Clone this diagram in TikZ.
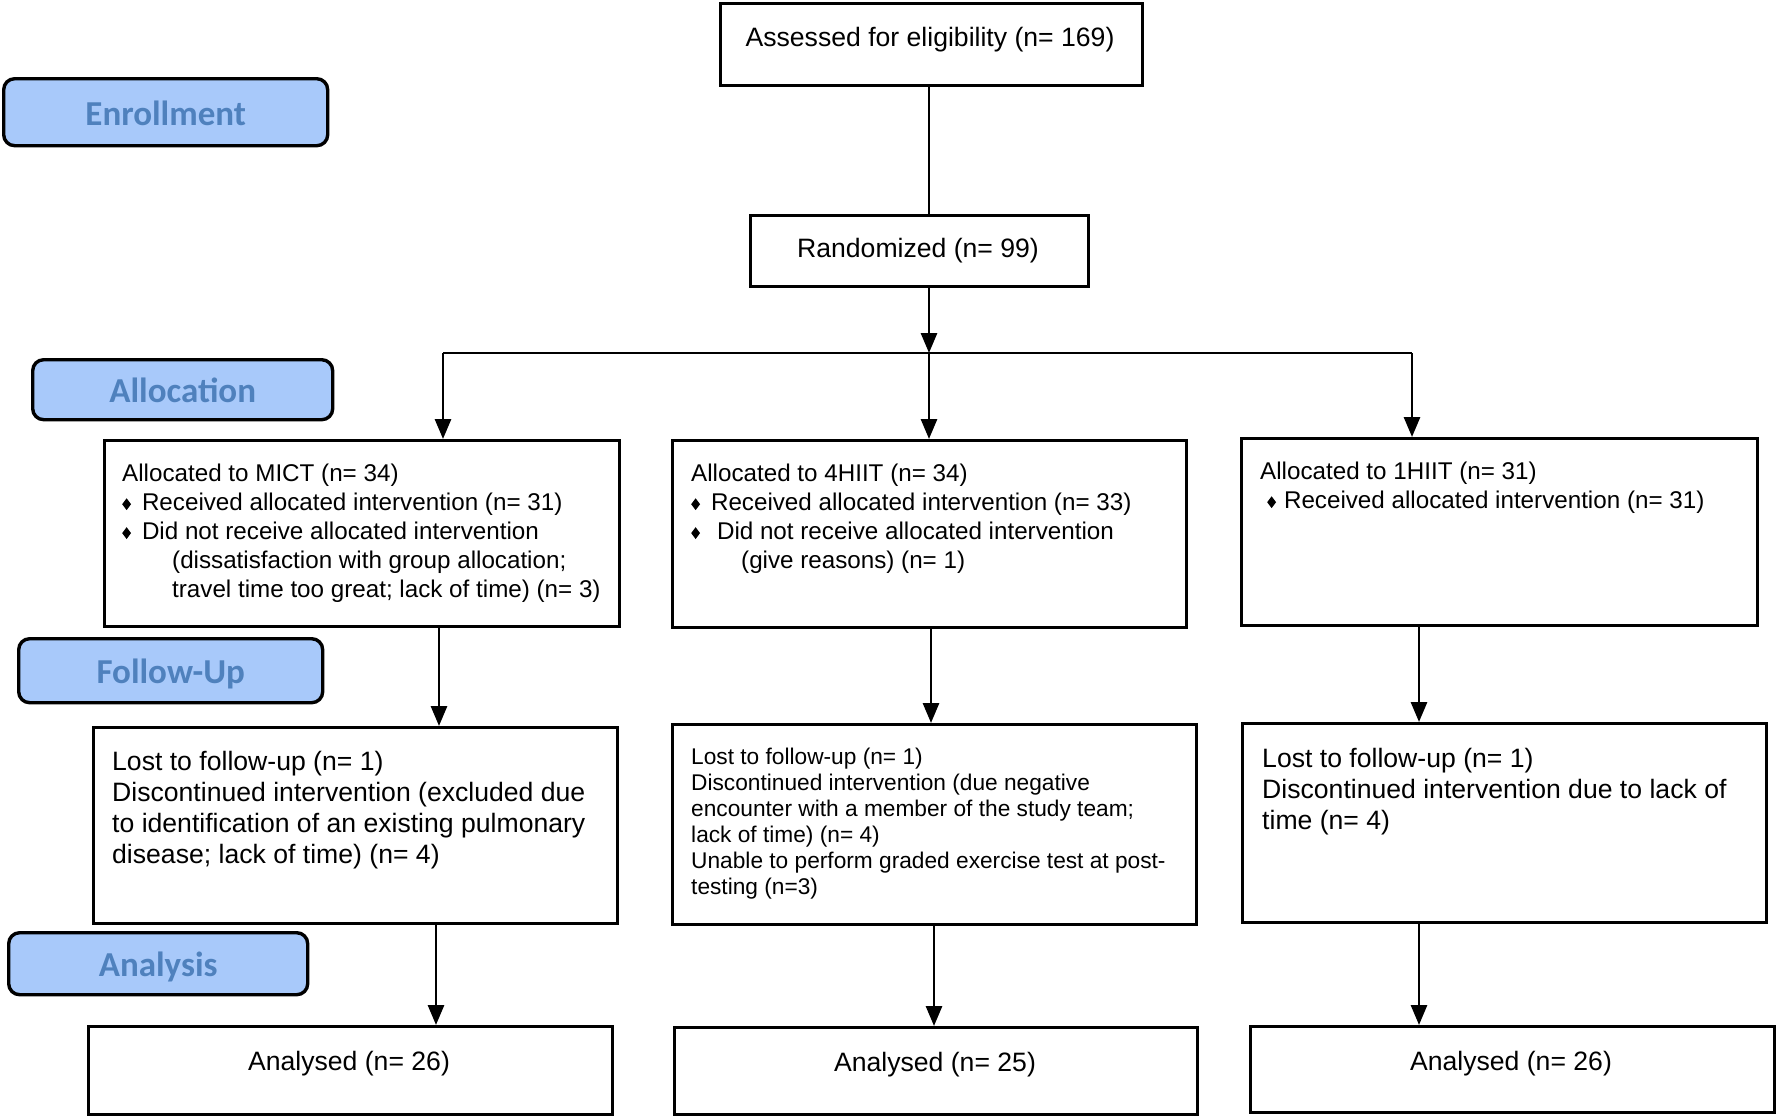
\documentclass[tikz,border=0pt]{standalone}
\usepackage{fontspec}
\usepackage{graphicx}
\setmainfont{Liberation Sans}
\newfontfamily\lblfont{Carlito}
\usetikzlibrary{arrows.meta,calc}
\definecolor{lblfill}{RGB}{168,201,250}
\definecolor{lbltext}{RGB}{79,129,189}
\newcommand\dmd{\raisebox{0.5pt}{\scalebox{0.78}[1.05]{\rotatebox{45}{\rule{8pt}{8pt}}}}}
\begin{document}
\begin{tikzpicture}[x=1pt,y=-1pt,
  box/.style={draw, line width=3pt, inner sep=0pt, anchor=north west},
  stage/.style={draw, line width=3.4pt, rounded corners=11pt, fill=lblfill,
    text=lbltext, font=\lblfont\bfseries\fontsize{35}{40}\selectfont,
    text height=26pt, text depth=0pt,
    inner sep=0pt, anchor=north west},
  arr/.style={line width=2.9pt, -{Triangle[length=20pt,width=16pt]}},
  ln/.style={line width=2.9pt},
  txt/.style={inner sep=0pt, anchor=north west, align=left},
  ctxt/.style={inner sep=0pt, anchor=center, font=\fontsize{26.6}{31}\selectfont},
  big/.style={font=\fontsize{26.6}{31}\selectfont},
  mid/.style={font=\fontsize{24.2}{28.9}\selectfont},
  small/.style={font=\fontsize{22.7}{26}\selectfont}
]
\useasboundingbox (0,0) rectangle (1776,1116);

% stage labels
\node[stage, minimum width=324pt, minimum height=67pt] (enroll) at (2,77) {Enrollment};
\node[stage, minimum width=300pt, minimum height=60pt] (alloc) at (31,358) {Allocation};
\node[stage, minimum width=304pt, minimum height=64pt] (follow) at (17,637) {Follow-Up};
\node[stage, minimum width=299pt, minimum height=62pt] (analysis) at (7,931) {Analysis};

% boxes
\node[box, minimum width=422pt, minimum height=82pt] (assess) at (719,2) {};
\node[box, minimum width=338pt, minimum height=71pt] (rand) at (749,214) {};
\node[box, minimum width=515pt, minimum height=186pt] (mict) at (103,439) {};
\node[box, minimum width=514pt, minimum height=187pt] (hfour) at (671,439) {};
\node[box, minimum width=516pt, minimum height=187pt] (hone) at (1240,437) {};
\node[box, minimum width=524pt, minimum height=196pt] (lostm) at (92,726) {};
\node[box, minimum width=524pt, minimum height=200pt] (lostf) at (671,723) {};
\node[box, minimum width=524pt, minimum height=199pt] (losto) at (1241,722) {};
\node[box, minimum width=524pt, minimum height=88pt] (anam) at (87,1025) {};
\node[box, minimum width=523pt, minimum height=87pt] (anaf) at (673,1026) {};
\node[box, minimum width=524pt, minimum height=86pt] (anao) at (1249,1025) {};

% texts
\node[ctxt] (assess-t) at (930,40) {Assessed for eligibility (n= 169)};
\node[ctxt] (rand-t) at (918,251) {Randomized (n= 99)};
\node[ctxt] (anam-t) at (349,1064) {Analysed (n= 26)};
\node[ctxt] (anaf-t) at (935,1065) {Analysed (n= 25)};
\node[ctxt] (anao-t) at (1511,1064) {Analysed (n= 26)};

\node[txt, mid] (mict-t) at (122,464) {Allocated to MICT (n= 34)\\
\dmd\hspace*{11pt}Received allocated intervention (n= 31)\\
\dmd\hspace*{11pt}Did not receive allocated intervention\\
\hspace*{50pt}(dissatisfaction with group allocation;\\
\hspace*{50pt}travel time too great; lack of time) (n= 3)};

\node[txt, mid] (hfour-t) at (691,464) {Allocated to 4HIIT (n= 34)\\
\dmd\hspace*{11pt}Received allocated intervention (n= 33)\\
\dmd\hspace*{17pt}Did not receive allocated intervention\\
\hspace*{50pt}(give reasons) (n= 1)};

\node[txt, mid] (hone-t) at (1260,462) {Allocated to 1HIIT (n= 31)\\
\hspace*{7pt}\dmd\hspace*{8pt}Received allocated intervention (n= 31)};

\node[txt, big] (lostm-t) at (112,751) {Lost to follow-up (n= 1)\\
Discontinued intervention (excluded due\\
to identification of an existing pulmonary\\
disease; lack of time) (n= 4)};

\node[txt, small] (lostf-t) at (691,748) {Lost to follow-up (n= 1)\\
Discontinued intervention (due negative\\
encounter with a member of the study team;\\
lack of time) (n= 4)\\
Unable to perform graded exercise test at post-\\
testing (n=3)};

\node[txt, big] (losto-t) at (1262,748) {Lost to follow-up (n= 1)\\
Discontinued intervention due to lack of\\
time (n= 4)};

% connector coordinates
\coordinate (br) at (929,353);
\coordinate (bl) at (443,353);
\coordinate (brr) at (1412,353);
\coordinate (c1) at (439,0);
\coordinate (c2) at (931,0);
\coordinate (c3) at (1419,0);
\coordinate (d1) at (436,0);
\coordinate (d2) at (934,0);

% connectors
\draw[ln] (assess.south -| br) -- (rand.north -| br);
\draw[arr] (rand.south -| br) -- (br);
\draw[ln] (bl) -- (brr);
\draw[arr] (bl) -- (mict.north -| bl);
\draw[arr] (br) -- (hfour.north -| br);
\draw[arr] (brr) -- (hone.north -| brr);
\draw[arr] (mict.south -| c1) -- (lostm.north -| c1);
\draw[arr] (hfour.south -| c2) -- (lostf.north -| c2);
\draw[arr] (hone.south -| c3) -- (losto.north -| c3);
\draw[arr] (lostm.south -| d1) -- (anam.north -| d1);
\draw[arr] (lostf.south -| d2) -- (anaf.north -| d2);
\draw[arr] (losto.south -| c3) -- (anao.north -| c3);
\end{tikzpicture}
\end{document}
